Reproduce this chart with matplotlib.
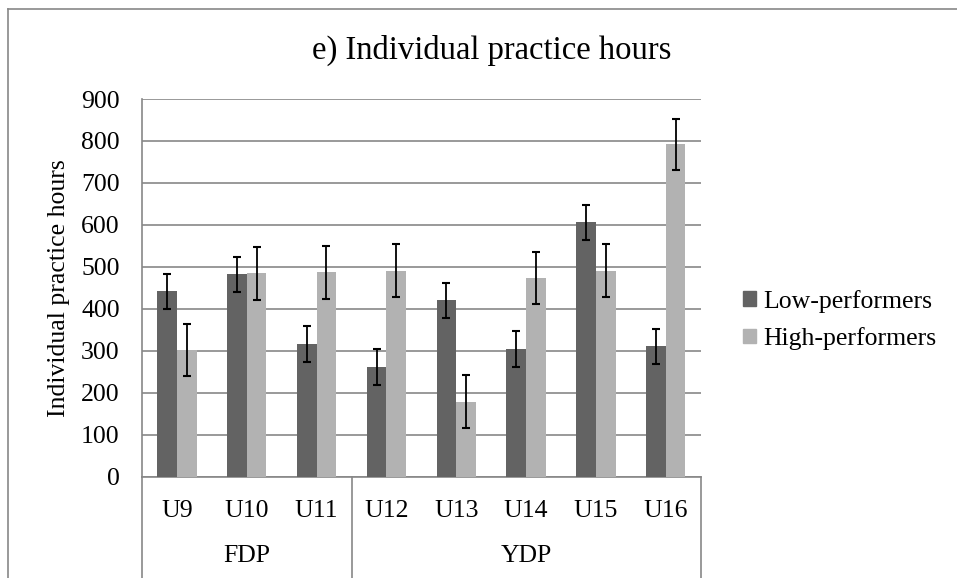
import numpy as np
import matplotlib
matplotlib.use('Agg')
import matplotlib.pyplot as plt
from matplotlib.patches import Patch
from matplotlib.lines import Line2D
from matplotlib.transforms import blended_transform_factory

plt.rcParams['font.family'] = ['Liberation Serif', 'DejaVu Serif']

ages = ['U9', 'U10', 'U11', 'U12', 'U13', 'U14', 'U15', 'U16']
groups = ['FDP', 'YDP']
group_sizes = [3, 5]
low = [442, 482, 316, 261, 420, 304, 606, 311]
low_err = [42, 41, 42, 43, 42, 42, 42, 42]
high = [303, 485, 487, 491, 179, 473, 491, 792]
high_err = [62, 63, 63, 63, 63, 62, 63, 61]

dark = '#636363'
light = '#b2b2b2'
grid_c = '#878787'
fs = 18.5

W, H = 957, 578
fig = plt.figure(figsize=(W / 100, H / 100), dpi=100)
ax = fig.add_axes([142 / W, 1 - 476.7 / H, (700.7 - 142) / W, (476.7 - 99) / H])

x = np.arange(len(ages))
bw = 0.282
ax.bar(x - bw / 2, low, bw, color=dark, zorder=3)
ax.bar(x + bw / 2, high, bw, color=light, zorder=3)
ax.errorbar(x - bw / 2, low, yerr=low_err, fmt='none', ecolor='black',
            elinewidth=1.3, capsize=3, capthick=1.5, zorder=4)
ax.errorbar(x + bw / 2, high, yerr=high_err, fmt='none', ecolor='black',
            elinewidth=1.3, capsize=3, capthick=1.5, zorder=4)

ax.set_xlim(-0.5, len(ages) - 0.5)
ax.set_ylim(0, 900)
ax.set_yticks(np.arange(0, 901, 100))
ax.yaxis.grid(True, color=grid_c, lw=1.2, zorder=0)
ax.set_axisbelow(True)
ax.set_xticks([])
ax.tick_params(axis='y', length=0, pad=16, labelsize=fs)
for s in ['top', 'right']:
    ax.spines[s].set_visible(False)
for s in ['left', 'bottom']:
    ax.spines[s].set_color(grid_c)
    ax.spines[s].set_linewidth(1.2)
ax.set_ylabel('Individual practice hours', fontsize=fs, labelpad=8)

# category labels and group table under the axis
tr = blended_transform_factory(ax.transData, fig.transFigure)
for i, a in enumerate(ages):
    ax.text(i, 1 - 517.3 / H, a, transform=tr, ha='center', va='baseline', fontsize=fs)
start = -0.5
edges = [start]
for g, n in zip(groups, group_sizes):
    ax.text(start + n / 2, 1 - 562 / H, g, transform=tr, ha='center', va='baseline', fontsize=fs)
    start += n
    edges.append(start)
for e in edges:
    fig.add_artist(Line2D([e, e], [0, 1 - 476.7 / H], transform=tr, color=grid_c, lw=1.2))

# chart area border
bx, by = 8 / W, 1 - 9 / H
fig.add_artist(Line2D([bx, bx], [0, by], transform=fig.transFigure, color=grid_c, lw=1.2))
fig.add_artist(Line2D([bx, 1], [by, by], transform=fig.transFigure, color=grid_c, lw=1.2))

fig.text(312 / W, 1 - 58.3 / H, 'e) Individual practice hours', ha='left', va='baseline', fontsize=23.5)

handles = [Patch(color=dark, label='Low-performers'), Patch(color=light, label='High-performers')]
fig.legend(handles=handles, loc='upper left', bbox_to_anchor=(743 / W, 1 - 290 / H),
           frameon=False, fontsize=fs, borderpad=0, borderaxespad=0,
           handlelength=0.52, handleheight=0.52, handletextpad=0.25, labelspacing=0.55)

fig.savefig('out.png', dpi=100)
